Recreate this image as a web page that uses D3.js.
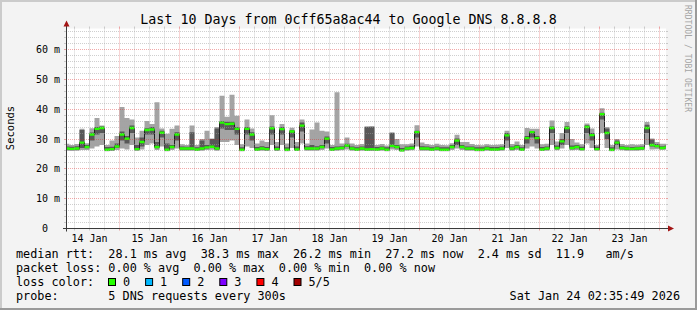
<!DOCTYPE html>
<html>
<head>
<meta charset="utf-8">
<script src="https://cdn.jsdelivr.net/npm/d3@7"></script>
<style>
  body { margin: 0; background: #f3f3f3; }
  svg { display: block; }
  text { font-family: "DejaVu Sans Mono", monospace; fill: #000; }
  .pre { white-space: pre; }
</style>
</head>
<body>
<div id="chart"></div>
<script>
// ─────────────────────────────────────────
// SmokePing style latency chart, last 10 days
// ─────────────────────────────────────────

const title = 'Last 10 Days from 0cff65a8ac44 to Google DNS 8.8.8.8';
const yLabel = 'Seconds';
const endTime = Date.UTC(2026, 0, 24, 2, 35, 49);
const startTime = Date.UTC(2026, 0, 14, 2, 35, 49);
const firstBin = Date.UTC(2026, 0, 14, 2, 0, 0);
const binHours = 2;

const yTicks = [0, 10, 20, 30, 40, 50, 60];

// round trip times in ms, one value per 2h bin
const pingMin = [
  26.1,26.0,26.1,26.3,26.3,26.8,27.5,28.0,25.9,26.0,26.3,
  26.8,26.5,28.0,26.0,26.5,28.0,28.5,26.3,27.5,25.9,26.3,26.8,
  26.1,26.1,26.1,26.0,26.1,26.3,26.4,26.1,29.0,29.0,29.5,28.0,
  25.9,27.5,27.0,26.0,26.1,26.0,28.0,26.0,28.0,25.9,27.0,26.0,
  28.5,26.1,26.1,26.1,26.3,26.8,26.0,26.1,26.2,26.5,26.1,26.0,
  26.1,26.0,26.0,26.0,26.1,25.9,26.5,26.3,25.8,26.1,26.2,27.5,
  26.1,26.1,26.0,26.1,25.9,25.9,26.3,26.8,26.3,26.1,26.1,25.9,
  25.9,26.1,26.0,26.0,26.1,27.0,26.1,26.3,26.0,26.8,27.5,26.8,
  26.0,26.1,28.0,26.2,26.8,28.0,26.2,26.3,26.1,28.5,27.0,26.1,
  32.0,27.0,25.9,26.5,26.2,26.1,26.1,26.1,26.2,28.0,26.5,26.6,
  26.3,26.4
];
const pingLow = [
  26.4,26.3,26.4,27.0,26.9,29.5,31.5,32.0,26.1,26.2,27.0,
  29.5,28.5,32.0,26.3,27.5,31.5,31.5,26.9,30.5,26.1,26.9,29.5,
  26.4,26.4,26.4,26.2,26.4,26.8,27.0,26.4,33.5,33.0,33.0,31.5,
  26.1,31.5,29.5,26.2,26.4,26.2,31.5,26.2,31.5,26.1,30.5,26.2,
  32.5,26.4,26.4,26.4,26.9,28.5,26.2,26.4,26.6,27.3,26.4,26.2,
  26.4,26.2,26.2,26.2,26.4,26.1,27.2,26.9,26.0,26.4,26.6,30.5,
  26.4,26.4,26.2,26.4,26.1,26.1,26.9,28.0,26.9,26.4,26.4,26.1,
  26.1,26.4,26.2,26.2,26.4,29.5,26.4,26.9,26.2,28.5,30.5,28.5,
  26.2,26.4,32.0,26.6,28.0,32.0,26.6,26.9,26.3,32.0,29.5,26.3,
  36.5,30.0,26.1,28.0,26.6,26.4,26.3,26.4,26.5,32.0,27.5,27.2,
  26.7,26.8
];
const median = [
  26.8,26.7,26.8,28.8,27.3,31.5,33.4,33.7,26.4,26.6,27.5,
  31.5,30.1,33.7,26.6,29.0,33.0,33.2,27.3,32.1,26.4,27.3,31.5,
  26.8,26.8,26.8,26.5,26.8,27.2,27.4,26.8,35.5,35.0,35.1,33.4,
  26.4,33.4,31.5,26.5,26.8,26.6,33.6,26.6,33.3,26.4,32.5,26.5,
  34.5,26.8,26.8,26.8,27.3,30.1,26.5,26.8,27.0,27.8,26.8,26.5,
  26.8,26.5,26.6,26.5,26.8,26.4,27.7,27.3,26.2,26.8,27.0,32.3,
  26.8,26.8,26.5,26.8,26.4,26.4,27.3,29.5,27.3,26.8,26.8,26.4,
  26.4,26.8,26.5,26.5,26.8,31.2,26.8,27.3,26.5,30.3,32.3,30.3,
  26.5,26.8,33.7,27.0,29.2,33.7,27.0,27.3,26.6,34.0,31.3,26.6,
  38.3,32.0,26.4,28.8,27.0,26.8,26.7,26.8,26.9,33.7,28.0,27.6,
  27.0,27.2
];
const pingHigh = [
  27.5,27.4,27.6,33.0,28.0,32.2,34.0,34.2,27.3,27.4,28.5,
  32.5,31.0,34.5,28.0,30.5,33.6,34.0,29.0,32.8,28.5,28.0,32.3,
  27.5,27.4,32.3,27.2,29.5,28.0,30.0,33.5,36.0,35.8,35.8,34.0,
  27.2,34.0,32.3,27.3,27.6,27.3,34.2,27.5,34.0,27.2,33.0,27.5,
  35.5,27.6,28.0,27.6,28.0,30.8,27.3,27.5,27.6,28.4,27.5,27.2,
  27.5,34.0,34.0,27.3,27.5,27.2,32.0,28.0,27.0,27.5,27.7,32.8,
  27.6,27.5,27.2,27.5,27.2,27.2,28.0,30.2,28.0,27.5,27.5,27.2,
  27.2,27.5,27.3,27.3,27.5,32.0,27.5,28.0,27.2,31.0,32.6,31.0,
  27.3,27.5,34.2,27.8,30.0,34.3,27.8,28.0,27.4,34.6,32.0,27.4,
  38.8,33.5,27.2,29.5,27.6,27.4,27.3,27.4,27.5,34.8,29.8,28.3,
  27.6,27.8
];
const pingMax = [
  28.4,28.0,28.3,33.4,28.6,33.6,37.0,34.5,28.0,29.5,31.0,
  40.7,37.0,36.5,30.5,32.8,36.0,35.0,42.3,33.5,31.8,33.4,34.5,
  28.2,28.0,34.5,28.0,30.0,32.8,30.2,34.0,44.5,37.5,44.8,37.8,
  28.2,36.5,33.5,28.5,29.5,29.0,38.0,29.0,35.0,28.5,33.8,29.0,
  36.5,28.5,33.2,35.5,32.8,32.5,28.0,45.7,28.5,30.5,28.5,28.0,
  28.3,34.3,34.4,28.0,28.3,27.8,32.3,30.0,28.2,28.2,28.5,34.6,
  28.8,28.3,28.0,28.4,28.0,27.9,28.6,31.4,29.0,29.0,28.3,28.0,
  27.9,28.2,28.0,28.1,28.2,32.8,28.3,29.2,28.0,33.7,33.4,33.4,
  28.2,28.4,36.2,29.2,32.0,35.7,30.0,28.8,28.2,35.2,33.5,28.0,
  40.3,34.0,28.0,30.0,28.3,28.0,28.2,28.1,28.2,35.7,30.2,29.0,
  28.4,28.4
];

// legend
const rttStats = ['28.1 ms avg', '38.3 ms max', '26.2 ms min', '27.2 ms now', '2.4 ms sd', '11.9   am/s'];
const lossStats = ['0.00 % avg', '0.00 % max', '0.00 % min', '0.00 % now'];
const lossLabels = ['0', '1', '2', '3', '4', '5/5'];
const lossColors = ['#26ff00', '#00b8ff', '#0059ff', '#7e00ff', '#ff0000', '#a10000'];
const probeText = '5 DNS requests every 300s';
const stampText = 'Sat Jan 24 02:35:49 2026';

// ─────────────────────────────────────────
const W = 697, H = 310;
const plot = { left: 66, right: 666, top: 28.5, bottom: 228.5 };

const svg = d3.select('#chart').append('svg')
  .attr('width', W).attr('height', H);

// frame
svg.append('rect').attr('width', W).attr('height', H).attr('fill', '#f3f3f3');
svg.append('path').attr('d', `M0,1H${W}M1,0V${H}`).attr('stroke', '#cbcbcb').attr('stroke-width', 2);
svg.append('path').attr('d', `M0,${H - 1}H${W}M${W - 1},0V${H}`).attr('stroke', '#9a9a9a').attr('stroke-width', 2);

const x = d3.scaleUtc().domain([startTime, endTime]).range([plot.left, plot.right]);
const y = d3.scaleLinear().domain([0, 67.04]).range([plot.bottom, plot.top]);
const snap = v => Math.floor(v) + 0.5;

// canvas
svg.append('rect')
  .attr('x', plot.left).attr('y', plot.top)
  .attr('width', plot.right - plot.left).attr('height', plot.bottom - plot.top)
  .attr('fill', '#ffffff');

svg.append('clipPath').attr('id', 'clip').append('rect')
  .attr('x', plot.left).attr('y', plot.top)
  .attr('width', plot.right - plot.left).attr('height', plot.bottom - plot.top);

// bins -> points (extra point closes last step)
const binMs = binHours * 3600 * 1000;
const points = median.map((m, i) => ({
  t: new Date(firstBin + i * binMs),
  lo: pingMin[i], q1: pingLow[i], med: m, q3: pingHigh[i], hi: pingMax[i]
}));
points.push({ ...points[points.length - 1], t: new Date(firstBin + median.length * binMs) });

const data = svg.append('g').attr('clip-path', 'url(#clip)');

// smoke
data.append('path').datum(points)
  .attr('fill', '#a4a4a4')
  .attr('d', d3.area().curve(d3.curveStepAfter)
    .x(d => x(d.t)).y0(d => y(d.lo)).y1(d => y(d.hi)));
data.append('path').datum(points)
  .attr('fill', '#585858')
  .attr('d', d3.area().curve(d3.curveStepAfter)
    .x(d => x(d.t)).y0(d => y(d.q1)).y1(d => y(d.q3)));

// median line
data.append('path').datum(points)
  .attr('fill', 'none').attr('stroke', '#202020').attr('stroke-width', 1)
  .attr('d', d3.line().curve(d3.curveStepAfter)
    .x(d => x(d.t)).y(d => y(d.med)));

// loss colour band round the median (all 0 loss)
data.append('path').datum(points)
  .attr('fill', lossColors[0])
  .attr('d', d3.area().curve(d3.curveStepAfter)
    .x(d => x(d.t)).y0(d => y(d.med) + 1.2).y1(d => y(d.med) - 1.2));

// grid, drawn over the data like rrdtool does
const grid = svg.append('g');
const minorColor = 'rgba(160,160,160,0.5)';
const majorColor = 'rgba(220,40,40,0.4)';

const hMinor = d3.range(2, 67, 2).filter(v => v % 10 !== 0);
const hMajor = yTicks.filter(v => v > 0);
const dayLines = d3.utcDay.range(new Date(startTime), new Date(endTime));
const sixHours = d3.utcHour.every(6).range(new Date(startTime), new Date(endTime))
  .filter(d => d.getUTCHours() !== 0);

function hLines(vals, color) {
  vals.forEach(v => {
    const yy = snap(y(v));
    grid.append('line').attr('x1', plot.left).attr('x2', plot.right)
      .attr('y1', yy).attr('y2', yy)
      .attr('stroke', color).attr('stroke-dasharray', '1,1');
    grid.append('path').attr('d', `M${plot.left - 2},${yy}H${plot.left}M${plot.right},${yy}H${plot.right + 2}`)
      .attr('stroke', color);
  });
}
function vLines(vals, color) {
  vals.forEach(d => {
    const xx = snap(x(d));
    grid.append('line').attr('x1', xx).attr('x2', xx)
      .attr('y1', plot.top).attr('y2', plot.bottom)
      .attr('stroke', color).attr('stroke-dasharray', '1,1');
    grid.append('path').attr('d', `M${xx},${plot.bottom}V${plot.bottom + 2}M${xx},${plot.top - 2}V${plot.top}`)
      .attr('stroke', color);
  });
}
hLines(hMinor, minorColor);
vLines(sixHours, minorColor);
hLines(hMajor, majorColor);
vLines(dayLines, majorColor);

// axes + arrows
svg.append('path')
  .attr('d', `M${plot.left - 3},${plot.bottom}H${plot.right + 3}M${plot.left + 0.5},${plot.bottom + 3}V${plot.top - 4}`)
  .attr('stroke', '#3a3a3a').attr('stroke-width', 1);
svg.append('path')
  .attr('d', `M${plot.left - 2.5},26.5L${plot.left + 3.5},26.5L${plot.left + 0.5},20.5Z`)
  .attr('fill', '#a31515');
svg.append('path')
  .attr('d', `M${plot.right + 2},${plot.bottom - 3}L${plot.right + 2},${plot.bottom + 3}L${plot.right + 8},${plot.bottom}Z`)
  .attr('fill', '#a31515');

// y tick labels
const yLab = svg.append('g').attr('font-size', '10px');
yTicks.forEach(v => {
  yLab.append('text').attr('x', 48).attr('y', y(v) + 3.6)
    .attr('text-anchor', 'end').text(v);
  if (v > 0) {
    yLab.append('text').attr('x', 54).attr('y', y(v) + 3.6).text('m');
  }
});

// x tick labels at noon
const noons = d3.utcDay.range(d3.utcDay.floor(new Date(startTime)), new Date(endTime))
  .map(d => d3.utcHour.offset(d, 12))
  .filter(d => d >= startTime && d <= endTime);
svg.append('g').attr('font-size', '10px')
  .selectAll('text').data(noons).enter().append('text')
  .attr('x', d => x(d)).attr('y', 241.5)
  .attr('text-anchor', 'middle')
  .text(d3.utcFormat('%d %b'));

// title + axis label + watermark
svg.append('text').attr('x', 348.5).attr('y', 24)
  .attr('text-anchor', 'middle').attr('font-size', '13.3px').text(title);
svg.append('text').attr('transform', 'translate(13.5,128) rotate(-90)')
  .attr('text-anchor', 'middle').attr('font-size', '10.5px').text(yLabel);
svg.append('text').attr('transform', 'translate(685,5) rotate(90)')
  .attr('font-size', '8px').attr('textLength', 107).attr('lengthAdjust', 'spacing')
  .style('fill', '#a4a4a4').text('RRDTOOL / TOBI OETIKER');

// legend
const lg = svg.append('g').attr('font-size', '11.8px');
const row = [258.3, 272.3, 286.3, 300.3];
lg.append('text').attr('class', 'pre').attr('x', 16).attr('y', row[0])
  .text('median rtt:  ' + rttStats.join('  '));
lg.append('text').attr('class', 'pre').attr('x', 16).attr('y', row[1])
  .text('packet loss: ' + lossStats.join('  '));
lg.append('text').attr('x', 16).attr('y', row[2]).text('loss color:');
lossColors.forEach((c, i) => {
  const bx = 108 + i * 37.1;
  lg.append('rect').attr('x', bx + 0.5).attr('y', 278.5)
    .attr('width', 7).attr('height', 7)
    .attr('fill', c).attr('stroke', '#000');
  lg.append('text').attr('x', bx + 15).attr('y', row[2]).text(lossLabels[i]);
});
lg.append('text').attr('class', 'pre').attr('x', 16).attr('y', row[3])
  .text('probe:       ' + probeText);
lg.append('text').attr('x', 680).attr('y', row[3])
  .attr('text-anchor', 'end').text(stampText);
</script>
</body>
</html>
